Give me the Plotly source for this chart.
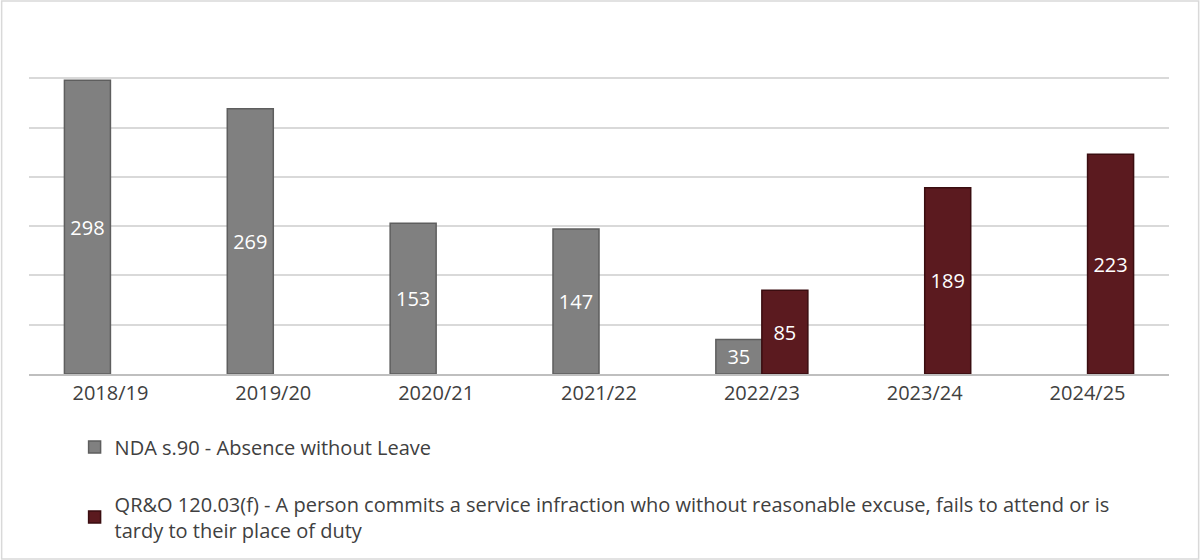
import plotly.graph_objects as go

categories = ["2018/19", "2019/20", "2020/21", "2021/22", "2022/23", "2023/24", "2024/25"]
nda_values = [298, 269, 153, 147, 35, None, None]
qro_values = [None, None, None, None, 85, 189, 223]
nda_name = "NDA s.90 - Absence without Leave"
qro_name = ("QR&O 120.03(f) - A person commits a service infraction who without reasonable excuse, fails to attend or is"
            "<br>tardy to their place of duty")

FONT = "Open Sans"

fig = go.Figure()
fig.add_trace(go.Bar(
    x=categories, y=nda_values, name=nda_name, legendgroup="a",
    marker=dict(color="#808080", line=dict(color="#5e5e5e", width=1.5)),
    text=[str(v) if v is not None else "" for v in nda_values],
    textposition="inside", insidetextanchor="middle",
    textfont=dict(color="white", size=20, family=FONT),
))
fig.add_trace(go.Bar(
    x=categories, y=qro_values, name=qro_name, legendgroup="b",
    marker=dict(color="#5b1a1f", line=dict(color="#3a0d10", width=1.5)),
    text=[str(v) if v is not None else "" for v in qro_values],
    textposition="inside", insidetextanchor="middle",
    textfont=dict(color="white", size=20, family=FONT),
))

fig.update_layout(
    width=1200, height=560,
    margin=dict(l=29, r=31, t=29, b=186, autoexpand=False),
    paper_bgcolor="white", plot_bgcolor="white",
    barmode="group", bargap=0.435, bargroupgap=0,
    font=dict(family=FONT, size=20, color="#404040"),
    uniformtext=dict(minsize=10, mode="show"),
    xaxis=dict(showline=True, linecolor="#bfbfbf", linewidth=1.5, ticks="",
               tickfont=dict(size=20, color="#404040", family=FONT), automargin=False),
    yaxis=dict(range=[0, 350], dtick=50, showticklabels=False, showgrid=True,
               gridcolor="#d9d9d9", gridwidth=1.5, zeroline=False, automargin=False),
    showlegend=True,
    legend=dict(orientation="v", x=0.04, y=-0.155, xanchor="left", yanchor="top",
                font=dict(size=20, color="#404040", family=FONT),
                tracegroupgap=28, itemwidth=30, bgcolor="rgba(0,0,0,0)"),
    shapes=[dict(type="rect", xref="paper", yref="paper",
                 x0=-0.024, x1=1.026, y0=-0.536, y1=1.081,
                 line=dict(color="#d9d9d9", width=1.5), fillcolor="rgba(0,0,0,0)", layer="below")],
)

fig.write_html("out.html", config={"displayModeBar": False},
               post_script="document.body.style.margin='0';")
